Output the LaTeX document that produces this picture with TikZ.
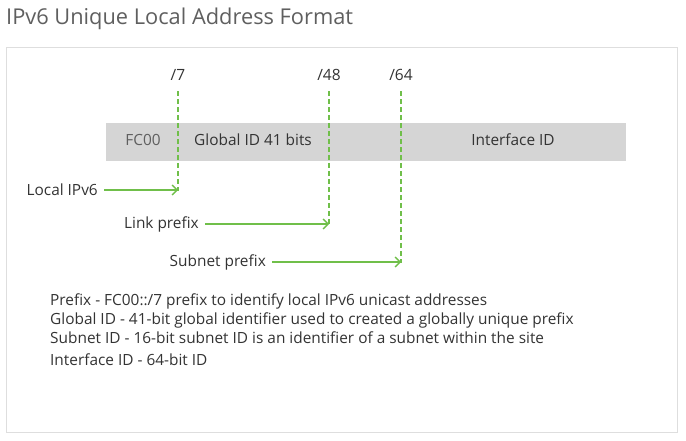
\documentclass[tikz,border=0pt]{standalone}
\usepackage{fontspec}
\setmainfont{Open Sans}
\usepackage{tikz}
\usetikzlibrary{arrows.meta,positioning,calc}
\definecolor{accent}{RGB}{112,191,74}
\definecolor{field}{RGB}{213,213,213}
\definecolor{ink}{RGB}{51,51,51}
\definecolor{soft}{RGB}{95,95,95}
\definecolor{frame}{RGB}{222,222,222}

\begin{document}
\begin{tikzpicture}[
    x=1pt, y=-1pt,
    txt/.style={text=ink, font=\fontsize{15.4}{18}\selectfont, inner sep=0pt},
    bits/.style={text=ink, font=\fontsize{15.5}{18}\selectfont,
                 inner xsep=0pt, inner ysep=10pt, anchor=base},
    cut/.style={draw=accent, line width=1.4pt, dash pattern=on 5pt off 3pt},
    pointer/.style={draw=accent, line width=1.4pt, shorten <=6pt,
                    -{Straight Barb[length=5pt,width=10pt]}}
]
    \useasboundingbox (0,0) rectangle (686,441);

    % Title and frame
    \node[anchor=base west, inner sep=0pt, text=soft,
          font=\fontsize{21.8}{26}\selectfont] (title) at (6,25) {IPv6 Unique Local Address Format};
    \draw[frame, line width=1pt] (6.5,47.5) rectangle (677,432.5);

    % Address bar
    \fill[field] (106,123) rectangle (626,161);
    \node[txt, text=soft, anchor=base] (fc) at (143,146) {FC00};
    \node[txt, anchor=base] (gid) at (253,146) {Global ID 41 bits};
    \node[txt, anchor=base] (iid) at (513,146) {Interface ID};

    % Prefix lengths
    \node[bits] (l7) at (178,81) {/7};
    \node[bits] (l48) at (329,81) {/48};
    \node[bits] (l64) at (401,81) {/64};
    \coordinate (e7) at (178,191);
    \coordinate (e48) at (329,225);
    \coordinate (e64) at (401,263);
    \draw[cut] (l7.south) -- (e7);
    \draw[cut] (l48.south) -- (e48);
    \draw[cut] (l64.south) -- (e64);

    % Pointers
    \node[txt, anchor=east] (lip) at (98,190) {Local IPv6};
    \node[txt, anchor=east] (lp) at (199,224) {Link prefix};
    \node[txt, anchor=east] (sp) at (266,262) {Subnet prefix};
    \draw[pointer] (lip.east) -- (lip.east -| e7);
    \draw[pointer] (lp.east) -- (lp.east -| e48);
    \draw[pointer] (sp.east) -- (sp.east -| e64);

    % Legend
    \node[txt, anchor=base west] (d1) at (50,305) {Prefix - FC00::/7 prefix to identify local IPv6 unicast addresses};
    \node[txt, anchor=base west] (d2) at (50,324) {Global ID - 41-bit global identifier used to created a globally unique prefix};
    \node[txt, anchor=base west] (d3) at (50,343) {Subnet ID - 16-bit subnet ID is an identifier of a subnet within the site};
    \node[txt, anchor=base west] (d4) at (50,365) {Interface ID - 64-bit ID};
\end{tikzpicture}
\end{document}
